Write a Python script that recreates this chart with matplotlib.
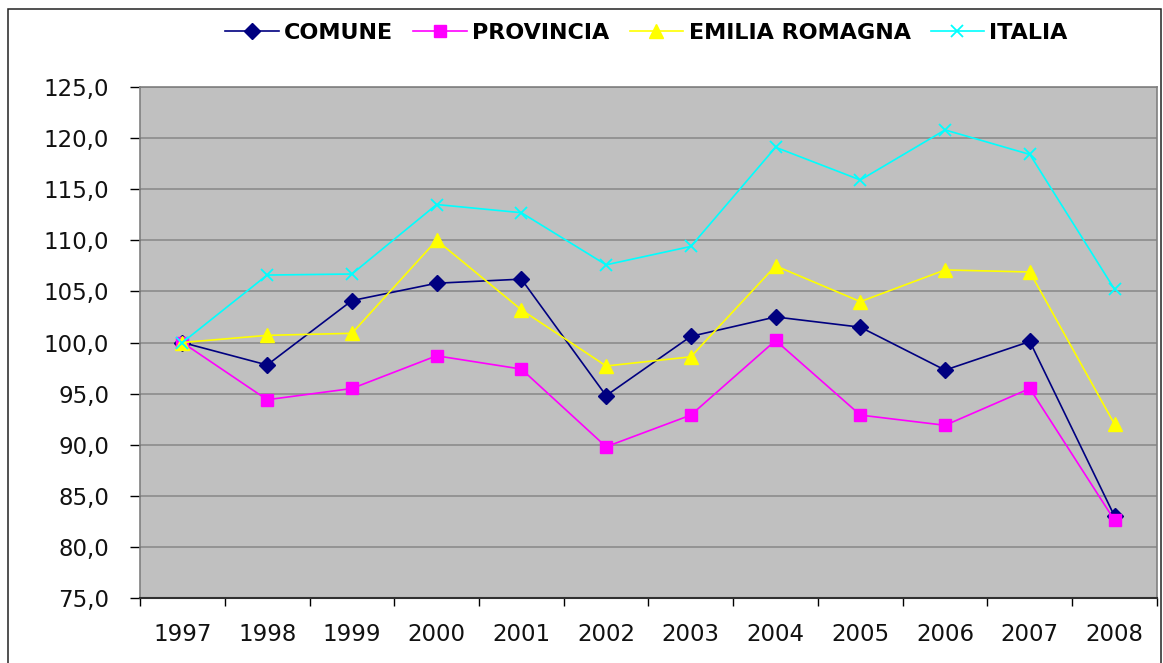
import matplotlib.pyplot as plt
from matplotlib.patches import Rectangle
from matplotlib.ticker import FixedLocator, FuncFormatter

plt.rcParams['font.family'] = ['DejaVu Sans']

anni = ['1997', '1998', '1999', '2000', '2001', '2002', '2003', '2004', '2005', '2006', '2007', '2008']
comune = [100.0, 97.8, 104.1, 105.8, 106.2, 94.8, 100.6, 102.5, 101.5, 97.3, 100.1, 83.0]
provincia = [100.0, 94.4, 95.5, 98.7, 97.4, 89.8, 92.9, 100.2, 92.9, 91.9, 95.5, 82.6]
emilia = [100.0, 100.7, 100.9, 110.0, 103.2, 97.7, 98.6, 107.5, 104.0, 107.1, 106.9, 92.0]
italia = [100.0, 106.6, 106.7, 113.5, 112.7, 107.6, 109.4, 119.1, 115.9, 120.8, 118.4, 105.2]

fig = plt.figure(figsize=(11.63, 6.63), dpi=100)
ax = fig.add_axes([0.1204, 0.098, 0.8744, 0.7708])
ax.set_facecolor('#C0C0C0')

x = list(range(len(anni)))
ax.plot(x, comune, color='#000080', marker='D', markersize=8, lw=1.2, label='COMUNE')
ax.plot(x, provincia, color='#FF00FF', marker='s', markersize=8, lw=1.2, label='PROVINCIA')
ax.plot(x, emilia, color='#FFFF00', marker='^', markersize=9.5, lw=1.2, label='EMILIA ROMAGNA')
ax.plot(x, italia, color='#00FFFF', marker='x', markersize=9, mew=1.3, lw=1.2, label='ITALIA')

ax.set_xlim(-0.5, len(anni) - 0.5)
ax.set_ylim(75, 125)
ax.set_yticks([75 + 5 * i for i in range(11)])
ax.yaxis.set_major_formatter(FuncFormatter(lambda v, p: f'{v:.1f}'.replace('.', ',')))
ax.grid(axis='y', color='#8C8C8C', lw=1.2)
ax.set_axisbelow(True)

ax.set_xticks(x)
ax.set_xticklabels(anni)
ax.xaxis.set_minor_locator(FixedLocator([i - 0.5 for i in range(len(anni) + 1)]))
ax.tick_params(axis='x', which='major', length=0, pad=18, labelsize=16.5, labelcolor='#111111')
ax.tick_params(axis='x', which='minor', length=5.8, width=1, color='black', direction='out')
ax.tick_params(axis='y', length=7.2, width=1, color='black', labelsize=16.5, pad=15,
               labelcolor='#111111')

for side in ['top', 'right', 'left']:
    ax.spines[side].set_color('#808080')
    ax.spines[side].set_linewidth(1.2)
ax.spines['bottom'].set_color('#303030')
ax.spines['bottom'].set_linewidth(1.5)

fig.legend(loc='center', bbox_to_anchor=(0.556, 0.950), ncol=4, frameon=False,
           prop={'weight': 'bold', 'size': 16}, handlelength=2.4, columnspacing=0.9,
           handletextpad=0.25)

fig.patches.append(Rectangle((0.0069, -0.01), 0.9914, 0.9964, transform=fig.transFigure,
                             fill=False, edgecolor='#222222', lw=1.1))

fig.savefig('out.png', dpi=100)
